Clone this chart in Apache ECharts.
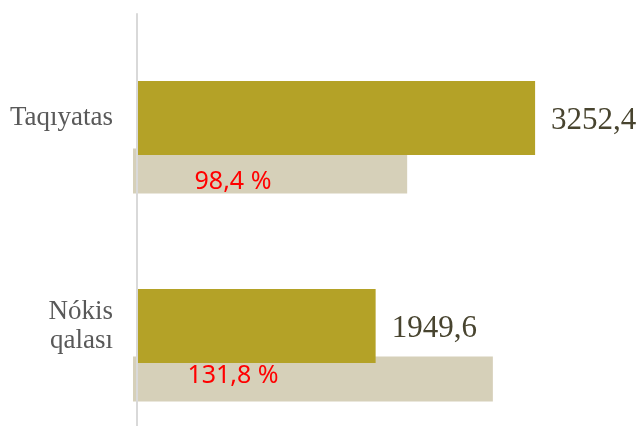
<!DOCTYPE html>
<html>
<head>
<meta charset="utf-8">
<script src="https://cdn.jsdelivr.net/npm/echarts@6/dist/echarts.min.js"></script>
<style>
  html, body { margin: 0; padding: 0; background: #fff; }
  #main { width: 640px; height: 426px; }
</style>
</head>
<body>
<div id="main"></div>
<script>
var categories = ['Taqıyatas', 'Nókis\nqalası'];
var mainValues = [3252.4, 1949.6];
var mainLabels = ['3252,4', '1949,6'];
var backValues = [2240, 2940];
var percentLabels = ['98,4 %', '131,8 %'];
var percentShift = [11, -3]; // labels are not quite centred in the original

var option = {
    animation: false,
    grid: [
        { left: 137, top: 14, width: 612, height: 416, outerBoundsMode: 'none' },
        { left: 133, top: 67, width: 612, height: 416, outerBoundsMode: 'none' }
    ],
    xAxis: [
        { gridIndex: 0, type: 'value', min: 0, max: 5000, show: false },
        { gridIndex: 1, type: 'value', min: 0, max: 5000, show: false }
    ],
    yAxis: [
        {
            gridIndex: 0,
            type: 'category',
            data: categories,
            inverse: true,
            offset: 2,
            z: 5,
            axisLine: { show: true, lineStyle: { color: '#d9d9d9', width: 2 } },
            axisTick: { show: false },
            axisLabel: {
                margin: 22,
                color: '#595959',
                fontFamily: 'Liberation Serif',
                fontSize: 27,
                lineHeight: 29,
                align: 'right'
            }
        },
        {
            gridIndex: 1,
            type: 'category',
            data: categories,
            inverse: true,
            show: false
        }
    ],
    series: [
        {
            // beige bars behind
            type: 'bar',
            xAxisIndex: 1,
            yAxisIndex: 1,
            barWidth: 45,
            itemStyle: { color: '#d6d0b9' },
            data: backValues.map(function (v, i) {
                return {
                    value: v,
                    label: {
                        show: true,
                        position: [100, 22 + percentShift[i]],
                        align: 'center',
                        verticalAlign: 'middle',
                        formatter: percentLabels[i],
                        color: '#ff0000',
                        fontFamily: 'Noto Sans',
                        fontSize: 25
                    }
                };
            })
        },
        {
            type: 'bar',
            xAxisIndex: 0,
            yAxisIndex: 0,
            barWidth: 74,
            itemStyle: { color: '#b4a227' },
            label: {
                show: true,
                position: 'right',
                distance: 16,
                offset: [0, 3],
                color: '#48442f',
                fontFamily: 'Liberation Serif',
                fontSize: 31,
                formatter: function (p) { return mainLabels[p.dataIndex]; }
            },
            data: mainValues
        }
    ]
};

echarts.init(document.getElementById('main')).setOption(option);
</script>
</body>
</html>
